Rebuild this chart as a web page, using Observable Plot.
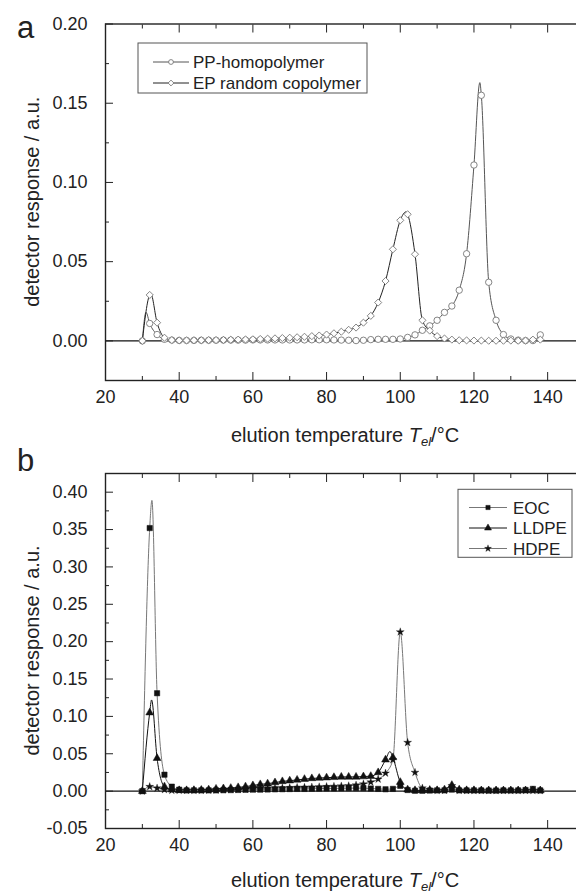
<!DOCTYPE html>
<html><head><meta charset="utf-8">
<script src="https://cdn.jsdelivr.net/npm/d3@7"></script>
<script src="https://cdn.jsdelivr.net/npm/@observablehq/plot@0.6"></script>
<style>
body{margin:0;background:#fff;overflow:hidden;}
#wrap{position:relative;width:576px;height:895px;overflow:hidden;background:#fff;}
#wrap svg{position:absolute;left:0;overflow:visible;}
</style></head><body><div id="wrap"></div>
<script>
// ---------- data ----------
const temps = [30,32,34,36,38,40,42,44,46,48,50,52,54,56,58,60,62,64,66,68,70,72,74,76,78,80,82,84,86,88,90,92,94,96,98,100,102,104,106,108,110,112,114,116,118,120,122,124,126,128,130,132,134,136,138];

// panel a
const ppHomopolymer = [0,0.011,0.004,0.001,0.0005,0.0003,0.0003,0.0003,0.0004,0.0004,0.0004,0.0005,0.0005,0.0005,0.0005,0.0006,0.0006,0.0006,0.0006,0.0006,0.0006,0.0006,0.0006,0.0007,0.0007,0.0007,0.0006,0.0005,0.0004,0.0002,0.0004,0.0008,0.001,0.001,0.001,0.0012,0.0022,0.0038,0.0067,0.0095,0.013,0.018,0.022,0.032,0.055,0.111,0.155,0.037,0.013,0.004,0.0012,0.0005,0.0002,0.0002,0.0038];
const epCopolymer = [0,0.029,0.0115,0.002,0.0005,0.0003,0.0003,0.0004,0.0004,0.0005,0.0005,0.0006,0.0007,0.0008,0.0009,0.001,0.0012,0.0014,0.0016,0.0018,0.002,0.0023,0.0026,0.003,0.0034,0.004,0.0048,0.0058,0.007,0.0084,0.0115,0.0158,0.0242,0.0378,0.0578,0.0761,0.0799,0.0547,0.013,0.0065,0.003,0.0015,0.0008,0.0004,0.0003,0.0002,0.0002,0.0001,0.0001,0.0001,0.0002,0.0001,0.0002,0.0008,0.0008];
const ppPeakT = [31.0, 121.6];
const ppPeakV = [0.018, 0.163];
const epPeakT = [32.3, 101.6];
const epPeakV = [0.0296, 0.0815];

// panel b
const eoc = [0,0.352,0.131,0.022,0.006,0.002,0.001,0.001,0.001,0.001,0.001,0.0012,0.0014,0.0016,0.0018,0.002,0.002,0.0022,0.0024,0.0026,0.0028,0.003,0.003,0.0032,0.0034,0.0036,0.0036,0.0038,0.004,0.004,0.004,0.0035,0.003,0.0025,0.003,0.007,0.0015,0.0005,0.0005,0.0008,0.001,0.001,0.002,0.001,0.001,0.001,0.001,0.0008,0.0008,0.001,0.001,0.001,0.0015,0.003,0.001];
const lldpe = [0,0.105,0.044,0.006,0.002,0.001,0.001,0.0012,0.0015,0.002,0.003,0.0035,0.004,0.005,0.006,0.0076,0.009,0.010,0.0115,0.013,0.014,0.015,0.016,0.017,0.0175,0.018,0.0185,0.019,0.019,0.019,0.0195,0.020,0.025,0.042,0.045,0.012,0.002,0.001,0.001,0.001,0.001,0.002,0.008,0.002,0.001,0.001,0.0008,0.0008,0.0008,0.0008,0.0008,0.0008,0.0008,0.0008,0.0008];
const hdpe = [0,0.006,0.004,0.002,0.001,0.001,0.001,0.001,0.001,0.0012,0.0015,0.002,0.0022,0.0025,0.0028,0.003,0.0033,0.0036,0.004,0.0042,0.0045,0.0048,0.005,0.0053,0.0056,0.006,0.0063,0.0067,0.007,0.008,0.0095,0.012,0.016,0.024,0.042,0.213,0.065,0.025,0.004,0.002,0.001,0.001,0.007,0.001,0.0008,0.0008,0.0008,0.0008,0.0008,0.0008,0.0008,0.0008,0.0008,0.0008,0.0008];
const eocPeakT = [32.6];
const eocPeakV = [0.389];
const lldpePeakT = [32.5, 97.2];
const lldpePeakV = [0.122, 0.053];
const hdpePeakT = [];
const hdpePeakV = [];

// ticks
const xMajor = [20,40,60,80,100,120,140];
const xMinor = [30,50,70,90,110,130];
const yMajorA = [0,0.05,0.10,0.15,0.20];
const yMinorA = [-0.025,0.025,0.075,0.125,0.175];
const yMajorB = [-0.05,0,0.05,0.10,0.15,0.20,0.25,0.30,0.35,0.40];
const yMinorB = [-0.025,0.025,0.075,0.125,0.175,0.225,0.275,0.325,0.375];

// ---------- helpers ----------
const FONT = "Liberation Sans, Arial, Helvetica, sans-serif";
const INK = "#222";
function rows(t, v) { return t.map((x, i) => ({t: x, v: v[i]})); }
function lineRows(t, v, pt, pv) { return rows(t, v).concat(rows(pt, pv)).sort((a, b) => a.t - b.t); }

function makePanel(cfg) {
  const marks = [Plot.ruleY([0], {stroke: "#111", strokeWidth: 1.3})];
  for (const s of cfg.series) marks.push(Plot.line(s.line, {x: "t", y: "v", curve: "monotone-x", stroke: s.lineColor, strokeWidth: 1}));
  for (const s of cfg.series) marks.push(Plot.dot(s.pts, {x: "t", y: "v", symbol: s.symbol, r: s.r, fill: s.fill, stroke: s.stroke, strokeWidth: s.sw}));
  marks.push(Plot.frame({stroke: INK, strokeWidth: 1.4}));
  marks.push(Plot.axisX({anchor: "bottom", ticks: xMajor, tickSize: -8, tickPadding: 18, tickFormat: d => String(d), fontSize: 18, label: null}));
  marks.push(Plot.axisX({anchor: "bottom", ticks: xMinor, tickSize: -4, tickFormat: () => "", label: null}));
  marks.push(Plot.axisX({anchor: "top", ticks: xMajor, tickSize: -8, tickFormat: () => "", label: null}));
  marks.push(Plot.axisX({anchor: "top", ticks: xMinor, tickSize: -4, tickFormat: () => "", label: null}));
  marks.push(Plot.axisY({anchor: "left", ticks: cfg.yMajor, tickSize: -8, tickPadding: 26, tickFormat: d => d.toFixed(2), fontSize: 18, label: null}));
  marks.push(Plot.axisY({anchor: "left", ticks: cfg.yMinor, tickSize: -4, tickFormat: () => "", label: null}));
  const svg = Plot.plot({
    width: 576, height: cfg.height,
    marginLeft: 105, marginRight: -8, marginTop: cfg.frameTop, marginBottom: cfg.height - cfg.frameBottom,
    x: {domain: [20, 150]},
    y: {domain: cfg.yDomain},
    style: {fontFamily: FONT, fontSize: "18px", color: INK, background: "transparent", overflow: "visible"},
    marks
  });
  const g = d3.select(svg);
  // panel letter
  g.append("text").attr("x", 17).attr("y", cfg.letterY).attr("text-anchor", "start").attr("font-size", 31).attr("font-family", FONT).attr("fill", INK).text(cfg.letter);
  // y title
  const cy = (cfg.frameTop + cfg.frameBottom) / 2;
  g.append("text").attr("transform", `translate(39,${cy}) rotate(-90)`).attr("text-anchor", "middle")
    .attr("font-size", 20).attr("font-family", FONT).attr("fill", INK).text("detector response / a.u.");
  // x title with italic subscript
  const xt = g.append("text").attr("x", 345).attr("y", cfg.xTitleY).attr("text-anchor", "middle")
    .attr("font-size", 20).attr("font-family", FONT).attr("fill", INK);
  xt.append("tspan").text("elution temperature ");
  xt.append("tspan").attr("font-style", "italic").text("T");
  xt.append("tspan").attr("font-style", "italic").attr("font-size", 13).attr("dy", 4).text("el");
  xt.append("tspan").attr("dy", -4).text("/°C");
  // legend
  const L = cfg.legend;
  g.append("rect").attr("x", L.x0).attr("y", L.y0).attr("width", L.x1 - L.x0).attr("height", L.y1 - L.y0)
    .attr("fill", "white").attr("stroke", "#555").attr("stroke-width", 1);
  cfg.series.forEach((s, i) => {
    const y = L.rowY[i];
    g.append("line").attr("x1", L.lx0).attr("x2", L.lx1).attr("y1", y).attr("y2", y).attr("stroke", s.lineColor).attr("stroke-width", 1);
    const sym = {circle: d3.symbolCircle, diamond2: d3.symbolDiamond2, square: d3.symbolSquare, triangle: d3.symbolTriangle, star: d3.symbolStar}[s.symbol];
    g.append("path").attr("d", d3.symbol(sym, Math.PI * s.lr * s.lr)()).attr("transform", `translate(${(L.lx0 + L.lx1) / 2},${y})`)
      .attr("fill", s.fill).attr("stroke", s.stroke).attr("stroke-width", s.sw);
    g.append("text").attr("x", L.tx).attr("y", y).attr("dy", "0.36em").attr("text-anchor", "start").attr("font-size", 17).attr("font-family", FONT).attr("fill", INK).text(s.name);
  });
  return svg;
}

const wrap = document.getElementById("wrap");

const svgA = makePanel({
  height: 447, frameTop: 23.5, frameBottom: 380, yDomain: [-0.025, 0.2], yMajor: yMajorA, yMinor: yMinorA,
  letter: "a", letterY: 38, xTitleY: 442,
  legend: {x0: 138, x1: 367, y0: 43, y1: 93, rowY: [62, 83], lx0: 153, lx1: 189, tx: 193},
  series: [
    {name: "PP-homopolymer", line: lineRows(temps, ppHomopolymer, ppPeakT, ppPeakV), pts: rows(temps, ppHomopolymer), lineColor: "#555", symbol: "circle", r: 3.2, lr: 2.4, fill: "white", stroke: "#777", sw: 0.9},
    {name: "EP random copolymer", line: lineRows(temps, epCopolymer, epPeakT, epPeakV), pts: rows(temps, epCopolymer), lineColor: "#222", symbol: "diamond2", r: 3.2, lr: 2.6, fill: "white", stroke: "#777", sw: 0.9}
  ]
});
svgA.style.top = "0px";
wrap.appendChild(svgA);

const svgB = makePanel({
  height: 448, frameTop: 26, frameBottom: 381, yDomain: [-0.05, 0.425], yMajor: yMajorB, yMinor: yMinorB,
  letter: "b", letterY: 24, xTitleY: 440,
  legend: {x0: 458, x1: 572, y0: 42.3, y1: 110.3, rowY: [60.5, 81, 101.5], lx0: 469, lx1: 507, tx: 513},
  series: [
    {name: "EOC", line: lineRows(temps, eoc, eocPeakT, eocPeakV), pts: rows(temps, eoc), lineColor: "#777", symbol: "square", r: 3.0, lr: 2.4, fill: "#111", stroke: "#111", sw: 0.5},
    {name: "LLDPE", line: lineRows(temps, lldpe, lldpePeakT, lldpePeakV), pts: rows(temps, lldpe), lineColor: "#111", symbol: "triangle", r: 2.9, lr: 2.6, fill: "#111", stroke: "#111", sw: 0.5},
    {name: "HDPE", line: lineRows(temps, hdpe, hdpePeakT, hdpePeakV), pts: rows(temps, hdpe), lineColor: "#777", symbol: "star", r: 2.5, lr: 2.2, fill: "#111", stroke: "#111", sw: 0.3}
  ]
});
svgB.style.top = "447px";
wrap.appendChild(svgB);
</script>
</body></html>
